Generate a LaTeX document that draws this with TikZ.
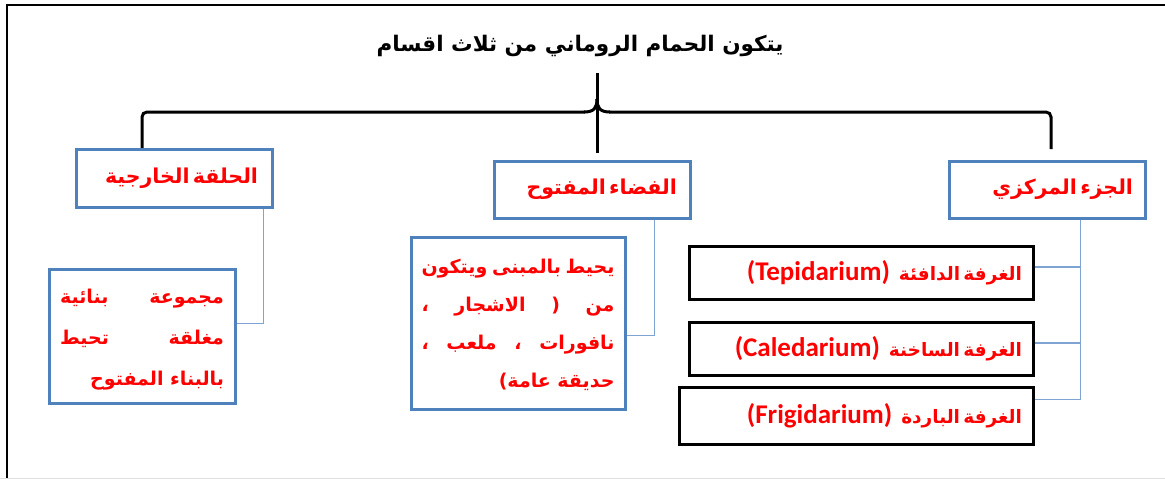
\documentclass[tikz,border=0pt]{standalone}
\usepackage{fontspec}
\usetikzlibrary{calc}
\setmainfont{DejaVu Sans}
\newfontfamily\arabfont[Script=Arabic]{DejaVu Sans}
\newfontfamily\latfont{Carlito}
\TeXXeTstate=1
\definecolor{boxblue}{HTML}{4F81BD}
\definecolor{linkblue}{HTML}{7FA3D3}
\definecolor{txtred}{HTML}{FF0000}
\newcommand\AR[1]{{\arabfont\bfseries\beginR #1\endR}}
\tikzset{
  bluebox/.style={draw=boxblue, line width=3pt, rectangle, inner sep=0pt, text=txtred},
  blackbox/.style={draw=black, line width=3pt, rectangle, inner sep=0pt, text=txtred},
  link/.style={draw=linkblue, line width=1.2pt},
  bracestyle/.style={draw=black, line width=3pt, rounded corners=5pt},
}
\begin{document}
\begin{tikzpicture}[x=1pt,y=-1pt]
\useasboundingbox (0,0) rectangle (1165,479);
% frame
\draw[line width=2.5pt] (7,481) -- (7,5) -- (1167,5);
\draw[black!12, line width=1pt] (0,478) -- (1165,478);
% title
\node (title) at (580,46) {\fontsize{21.5}{25}\selectfont\AR{يتكون الحمام الروماني من ثلاث اقسام}};
% brace
\coordinate (bL) at (142,149);
\coordinate (bR) at (1051,149);
\coordinate (bTop) at (597,73);
\coordinate (bBot) at (597,153);
\coordinate (bTip) at (597,99);
\draw[bracestyle] (bL) -- (142,112) -- (585,112);
\draw[black, line width=3pt] (584,112) .. controls (594,112) and (597,108) .. (bTip);
\draw[bracestyle] (bR) -- (1051,112) -- (609,112);
\draw[black, line width=3pt] (610,112) .. controls (600,112) and (597,108) .. (bTip);
\draw[black, line width=3pt] (bTop) -- (bBot);
% headers
\node[bluebox, minimum width=196pt, minimum height=58pt, text width=168pt, align=right] (hdrL) at (174,178.5)
  {\fontsize{20.5}{24}\selectfont\AR{الحلقة الخارجية}};
\node[bluebox, minimum width=196pt, minimum height=57pt, text width=170pt, align=right] (hdrM) at (592,189.5)
  {\fontsize{20.5}{24}\selectfont\AR{الفضاء المفتوح}};
\node[bluebox, minimum width=196pt, minimum height=57pt, text width=172pt, align=right] (hdrR) at (1047,189.5)
  {\fontsize{20.5}{24}\selectfont\AR{الجزء المركزي}};
% description boxes
\node[bluebox, minimum width=186pt, minimum height=134pt] (descL) at (142,336)
  {\fontsize{19}{41}\selectfont
   \begin{tabular}{@{}r@{}}
   \hbox to 164pt{\AR{مجموعة\hfill بنائية}}\\[0pt]
   \hbox to 164pt{\AR{مغلقة\hfill تحيط}}\\[0pt]
   \hbox to 164pt{\hfill\AR{بالبناء المفتوح}}
   \end{tabular}};
\node[bluebox, minimum width=214pt, minimum height=172pt] (descM) at (518,323)
  {\fontsize{19}{38}\selectfont
   \begin{tabular}{@{}r@{}}
   \hbox to 193pt{\AR{يحيط\hfill بالمبنى\hfill ويتكون}}\\[0pt]
   \hbox to 193pt{\AR{من\hfill (\hfill الاشجار\hfill ،}}\\[0pt]
   \hbox to 193pt{\AR{نافورات\hfill ،\hfill ملعب\hfill ،}}\\[0pt]
   \hbox to 193pt{\hfill\AR{حديقة عامة)}}
   \end{tabular}};
% black boxes
\node[blackbox, minimum width=344pt, minimum height=53pt, text width=322pt, align=right] (room1) at (861,272.5)
  {{\latfont\bfseries\fontsize{27}{30}\selectfont(Tepidarium)}\hspace{9pt}{\fontsize{18.5}{22}\selectfont\AR{الغرفة الدافئة}}};
\node[blackbox, minimum width=344pt, minimum height=53pt, text width=322pt, align=right] (room2) at (861,348.5)
  {{\latfont\bfseries\fontsize{27}{30}\selectfont(Caledarium)}\hspace{9pt}{\fontsize{18.5}{22}\selectfont\AR{الغرفة الساخنة}}};
\node[blackbox, minimum width=354pt, minimum height=57pt, text width=332pt, align=right] (room3) at (856,415.5)
  {{\latfont\bfseries\fontsize{27}{30}\selectfont(Frigidarium)}\hspace{9pt}{\fontsize{18.5}{22}\selectfont\AR{الغرفة الباردة}}};
% connectors
\draw[link] ($(hdrL.south east)+(-10,0)$) |- ($(descL.north east)!0.41!(descL.south east)$);
\draw[link] ($(hdrM.south east)+(-37,0)$) |- ($(descM.north east)!0.57!(descM.south east)$);
\coordinate (trunk) at ($(hdrR.south east)+(-66,0)$);
\draw[link] (trunk) |- ($(room3.north east)!0.23!(room3.south east)$);
\draw[link] ($(room1.north east)!0.4!(room1.south east)$) -- (trunk |- {$(room1.north east)!0.4!(room1.south east)$});
\draw[link] ($(room2.north east)!0.4!(room2.south east)$) -- (trunk |- {$(room2.north east)!0.4!(room2.south east)$});
\end{tikzpicture}
\end{document}
